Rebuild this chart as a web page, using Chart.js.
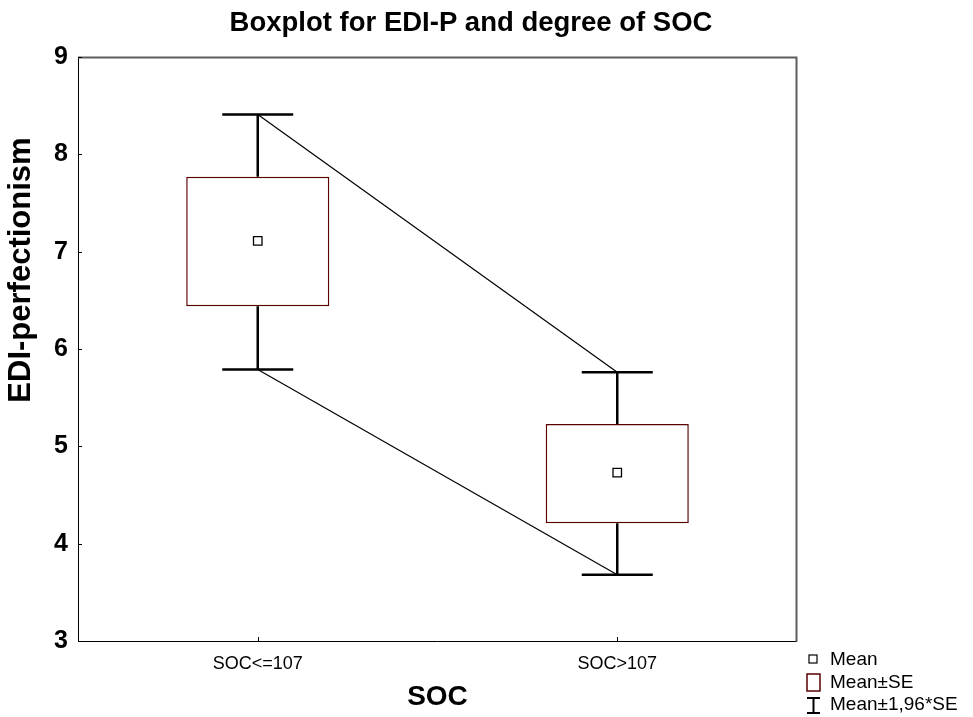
<!DOCTYPE html>
<html>
<head>
<meta charset="utf-8">
<script src="https://cdn.jsdelivr.net/npm/chart.js@4.4.1/dist/chart.umd.min.js"></script>
<style>
  html, body { margin: 0; padding: 0; background: #fff; }
  #wrap { width: 973px; height: 717px; position: relative; }
</style>
</head>
<body>
<div id="wrap"><canvas id="boxChart" width="973" height="717"></canvas></div>
<script>
// Data
const groups = ['SOC<=107', 'SOC>107'];
const means = [7.11, 4.73];
const seLow = [6.44, 4.21];
const seHigh = [7.77, 5.23];
const ciLow = [5.79, 3.68];
const ciHigh = [8.41, 5.76];
const yTicks = [3, 4, 5, 6, 7, 8, 9];

const FONT = "'Liberation Sans', Arial, sans-serif";

// whiskers, frame, inward ticks, title, y title and legend
const boxExtras = {
    id: 'boxExtras',
    afterDatasetsDraw(chart) {
        const c = chart.ctx;
        const x = chart.scales.x, y = chart.scales.y;
        const a = chart.chartArea;
        c.save();

        // whiskers (Mean±1,96*SE)
        c.strokeStyle = '#000';
        c.lineWidth = 2.5;
        groups.forEach((g, i) => {
            const px = x.getPixelForValue(i);
            c.beginPath();
            c.moveTo(px, y.getPixelForValue(seHigh[i]));
            c.lineTo(px, y.getPixelForValue(ciHigh[i]));
            c.moveTo(px, y.getPixelForValue(seLow[i]));
            c.lineTo(px, y.getPixelForValue(ciLow[i]));
            c.moveTo(px - 35.5, y.getPixelForValue(ciHigh[i]));
            c.lineTo(px + 35.5, y.getPixelForValue(ciHigh[i]));
            c.moveTo(px - 35.5, y.getPixelForValue(ciLow[i]));
            c.lineTo(px + 35.5, y.getPixelForValue(ciLow[i]));
            c.stroke();
        });

        // frame
        c.lineWidth = 1;
        c.strokeStyle = '#000';
        c.beginPath();
        c.moveTo(a.left + 0.5, a.top);
        c.lineTo(a.left + 0.5, a.bottom + 0.5);
        c.lineTo(a.right, a.bottom + 0.5);
        c.stroke();
        c.lineWidth = 2;
        c.strokeStyle = '#5e5e5e';
        c.beginPath();
        c.moveTo(a.left, a.top + 0.5);
        c.lineTo(a.right - 0.5, a.top + 0.5);
        c.lineTo(a.right - 0.5, a.bottom + 0.5);
        c.stroke();

        // inward ticks
        c.lineWidth = 1;
        c.strokeStyle = '#000';
        c.beginPath();
        yTicks.forEach(v => {
            const py = Math.round(y.getPixelForValue(v)) + 0.5;
            c.moveTo(a.left, py);
            c.lineTo(a.left + 4, py);
        });
        groups.forEach((g, i) => {
            const px = Math.round(x.getPixelForValue(i)) + 0.5;
            c.moveTo(px, a.bottom);
            c.lineTo(px, a.bottom - 4);
        });
        c.stroke();

        // title
        c.fillStyle = '#000';
        c.textAlign = 'center';
        c.textBaseline = 'middle';
        c.font = 'bold 27.5px ' + FONT;
        c.fillText('Boxplot for EDI-P and degree of SOC', 471, 23);

        // y axis title
        c.save();
        c.translate(21, 270);
        c.rotate(-Math.PI / 2);
        c.font = 'bold 31px ' + FONT;
        c.fillText('EDI-perfectionism', 0, 0);
        c.restore();

        // legend
        c.textAlign = 'left';
        c.font = '19px ' + FONT;
        c.lineWidth = 1.2;
        c.strokeStyle = '#000';
        c.fillStyle = '#fff';
        c.fillRect(809, 655, 8, 8);
        c.strokeRect(809, 655, 8, 8);
        c.fillStyle = '#000';
        c.fillText('Mean', 830, 660);

        c.strokeStyle = '#5a0000';
        c.lineWidth = 1.5;
        c.strokeRect(807, 674, 13, 17);
        c.fillText('Mean±SE', 830, 683);

        c.strokeStyle = '#000';
        c.lineWidth = 2;
        c.beginPath();
        c.moveTo(807, 698); c.lineTo(820, 698);
        c.moveTo(813.5, 698); c.lineTo(813.5, 713);
        c.moveTo(807, 713); c.lineTo(820, 713);
        c.stroke();
        c.fillText('Mean±1,96*SE', 830, 705);

        c.restore();
    }
};

const ctx = document.getElementById('boxChart').getContext('2d');
const boxChart = new Chart(ctx, {
    data: {
        labels: groups,
        datasets: [
            {
                type: 'line',
                label: 'ci top',
                data: ciHigh,
                borderColor: '#000',
                borderWidth: 1.2,
                pointRadius: 0,
                fill: false,
                order: 3
            },
            {
                type: 'line',
                label: 'ci bottom',
                data: ciLow,
                borderColor: '#000',
                borderWidth: 1.2,
                pointRadius: 0,
                fill: false,
                order: 3
            },
            {
                type: 'bar',
                label: 'Mean±SE',
                data: groups.map((g, i) => [seLow[i], seHigh[i]]),
                backgroundColor: '#fff',
                borderColor: '#5a0000',
                borderWidth: 1.5,
                borderSkipped: false,
                categoryPercentage: 1,
                barPercentage: 0.398,
                order: 2
            },
            {
                type: 'line',
                label: 'Mean',
                data: means,
                showLine: false,
                pointStyle: 'rect',
                pointRadius: 6,
                pointBackgroundColor: '#fff',
                pointBorderColor: '#000',
                pointBorderWidth: 1.3,
                order: 1
            }
        ]
    },
    options: {
        responsive: false,
        animation: false,
        devicePixelRatio: 1,
        layout: { padding: { top: 57, right: 176, left: 0, bottom: 0 } },
        plugins: {
            legend: { display: false },
            title: { display: false },
            tooltip: { enabled: false }
        },
        scales: {
            x: {
                type: 'category',
                offset: true,
                grid: { display: false, drawTicks: false },
                border: { display: false },
                ticks: { color: '#000', font: { family: FONT, size: 18 }, padding: 12 },
                title: {
                    display: true,
                    text: 'SOC',
                    color: '#000',
                    font: { family: FONT, size: 28, weight: 'bold' },
                    padding: { top: 0, bottom: 3 }
                },
                afterFit(scale) { scale.height = 76; }
            },
            y: {
                min: 3,
                max: 9,
                grid: { display: false, drawTicks: false },
                border: { display: false },
                ticks: {
                    stepSize: 1,
                    color: '#000',
                    padding: 10,
                    font: { family: FONT, size: 25, weight: 'bold' }
                },
                afterFit(scale) { scale.width = 78; }
            }
        }
    },
    plugins: [boxExtras]
});
</script>
</body>
</html>
